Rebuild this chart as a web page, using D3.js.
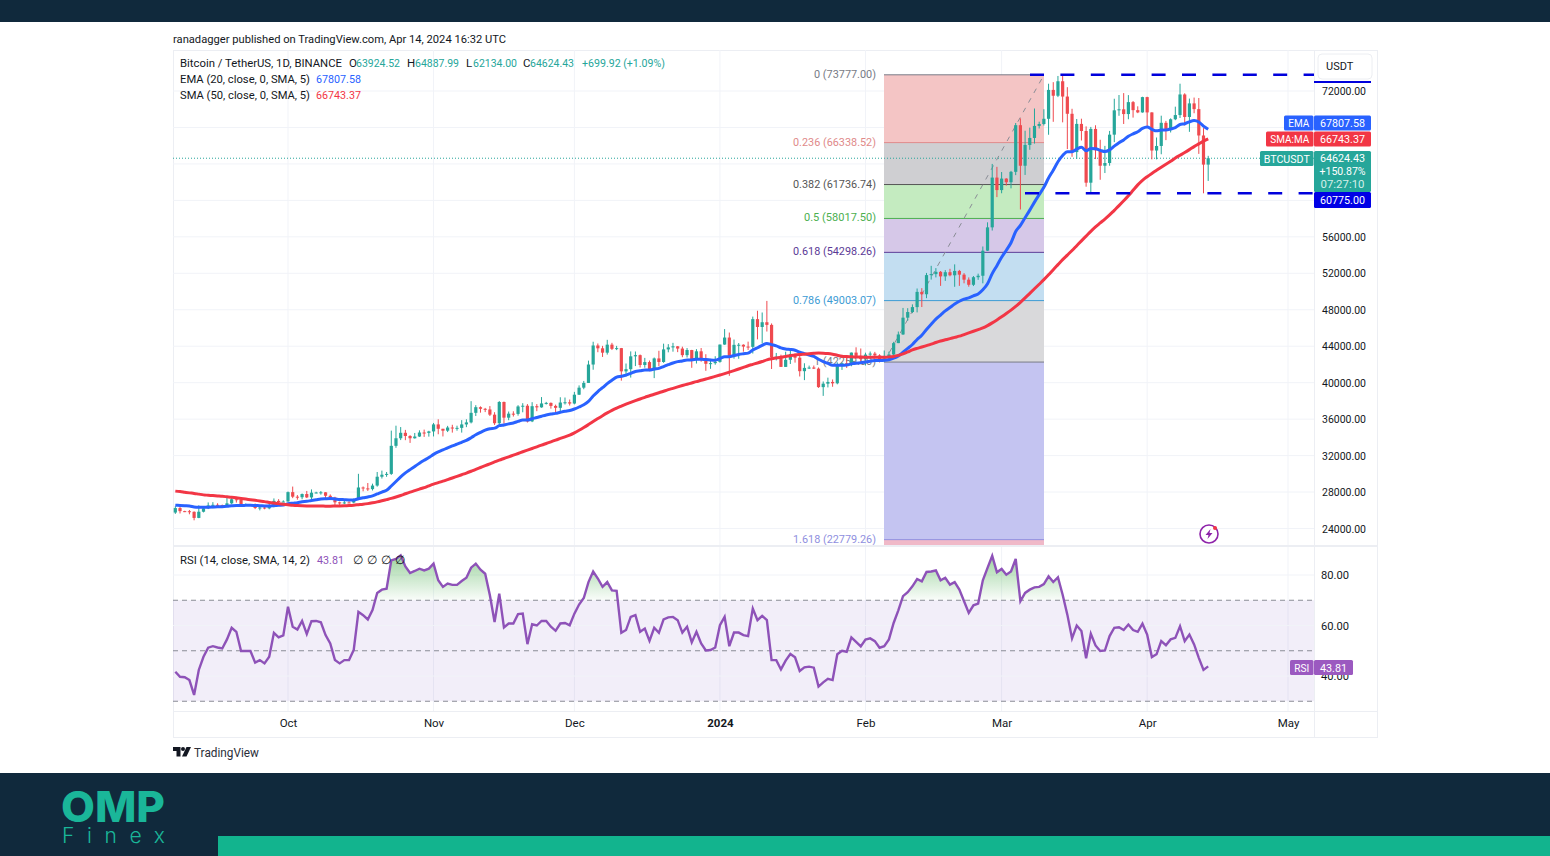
<!DOCTYPE html>
<html>
<head>
<meta charset="utf-8">
<title>BTCUSDT</title>
<script src="https://cdn.jsdelivr.net/npm/d3@7"></script>
<style>
  html, body { margin: 0; padding: 0; background: #fff; overflow: hidden; }
  svg { display: block; }
  text { font-family: Roboto, "Open Sans", sans-serif; }
  .domain { display: none; }
</style>
</head>
<body>
<svg id="chart" width="1550" height="856"></svg>
<script>
// daily candles from Sep 7 2023 to Apr 14 2024
var firstDay = "2023-09-07";

var opens = [25750,26240,25905,25895,25830,25160,25840,26220,26530,26600,26570,26530,26760,27210,27130,26570,26580,26580,26250,26300,26210,26350,27030,26900,26960,27990,27490,27430,27780,27410,27930,27950,27970,27590,27390,26870,26750,26860,26850,27150,28500,28400,28320,28710,29680,29900,29990,33070,33900,34500,34150,33900,34090,34530,34490,34650,35420,34940,34730,35080,35040,35040,35420,35640,36690,37310,37130,37060,36490,35550,37880,36160,36600,36570,37390,37470,35750,37420,37290,37720,37780,37450,37240,37820,37850,37710,38680,39450,39970,41990,44080,43770,43290,44170,43710,43790,41240,41480,42890,43020,41940,42260,41370,42660,42270,43650,43870,43990,43740,43020,43580,42520,43440,42580,42070,42140,42280,44180,44950,42850,44150,44160,43960,43930,46970,46110,46630,46340,42780,42840,41730,42510,43140,42740,41260,41620,41660,41540,39510,39890,40080,39930,41820,42120,42030,43300,42940,42580,43080,43190,42990,42580,42660,43090,44340,45290,47130,47750,48290,49960,49700,51800,51910,52160,51660,52120,51780,52260,51850,51300,50740,51570,51730,54480,57040,62500,61130,62390,61990,63130,68250,63800,66080,66850,68170,68380,68950,72120,71480,73070,71390,69500,65300,68390,67610,61940,67840,65500,63800,64100,67210,69880,69990,69470,70780,69900,69650,71330,69650,65470,65970,68510,67840,68900,69360,71620,69150,70640,70010,67120,63924.52];
var highs = [26450,26430,25945,26030,25880,26540,26400,26860,26890,26770,26620,27410,27490,27380,27160,26740,26640,26740,26430,26390,26820,27300,27220,27090,28060,28600,27670,27840,28120,28290,28030,28110,27990,27740,27480,26950,27090,26990,27290,30000,28610,28990,28920,30200,30350,30200,34740,35280,35130,34820,34240,34480,34770,34850,34720,35580,35980,34940,35260,35380,35280,35890,35980,37970,37530,37400,37230,37430,36760,37980,37930,36830,36860,37530,37750,37650,37860,37650,38420,37890,37830,37590,38400,38370,38150,38990,39700,40190,42420,44490,44300,44040,44700,44370,44040,43810,42100,43430,43420,43090,42720,42430,42760,43500,44280,44230,44370,44020,43950,43800,43600,43680,43800,43120,42610,42900,44180,45880,45500,44730,44350,44210,44500,47250,47890,47700,48970,46500,43260,43070,43400,43570,43200,42930,42130,41870,41880,41670,40130,40550,40350,42230,42200,42840,43310,43880,43750,43290,43420,43380,43120,43530,43400,44480,45610,48200,48170,48590,50330,50370,52040,52820,52570,52250,52350,52490,52980,52370,52020,51550,51700,51960,54940,57590,64000,63680,63110,62430,63230,68490,69000,67640,67980,70080,68630,70000,72800,72970,73650,73777,72420,70050,68930,68960,68120,68060,68240,66650,65980,67620,71150,71560,71770,71550,70900,70320,71370,71370,69670,66900,69290,68720,69000,70280,72800,71750,71170,71280,71230,67930,64887.99];
var lows = [25600,25650,25800,25560,24900,25130,25765,26130,26220,26470,26400,26390,26670,26840,26360,26480,26500,26130,25990,26110,26110,26320,26660,26890,26950,27330,27160,27210,27340,27180,27860,27710,27260,27110,26530,26560,26690,26810,26770,27120,28080,28120,28170,28590,29480,29670,29880,32850,33700,33690,33390,33860,34050,34050,34080,34100,34340,34100,34580,34520,34730,34520,35120,35530,36340,36710,36770,36340,35360,35360,35500,35880,36280,36380,36750,35630,35670,36870,37250,37600,37150,36720,36870,37600,37490,37620,38650,39280,39970,41420,43340,42820,43080,43580,43570,40220,40680,40560,41820,41660,41640,41250,40500,41800,42180,43330,43400,43350,42790,42760,41630,42100,42300,41300,41520,41970,42190,44150,40750,42630,42620,43400,43590,43200,44750,44300,45610,41500,42440,41720,41720,42050,42200,40680,40280,41500,41500,39430,38550,39480,39550,39820,41400,41620,41800,42680,42280,41880,42580,42880,42220,42260,42570,42790,44340,45240,46800,47630,47710,48300,49270,51310,51550,50620,51170,51670,50520,50620,50900,50530,50600,51280,50900,54450,56690,60360,60780,61620,61320,62770,59000,62790,65550,66230,67890,68220,67200,68620,71330,68560,65630,64780,64550,66570,61500,60780,64530,62260,63000,63800,66390,69280,68380,68900,69080,69570,69620,68060,64500,64500,65060,66610,67450,68800,69040,68210,67520,69560,65100,60775,62134];
var closes = [26240,25905,25895,25830,25160,25840,26220,26530,26600,26570,26530,26760,27210,27130,26570,26580,26580,26250,26300,26210,26350,27030,26900,26960,27990,27490,27430,27780,27410,27930,27950,27970,27590,27390,26870,26750,26860,26850,27150,28500,28400,28320,28710,29680,29900,29990,33070,33900,34500,34150,33900,34090,34530,34490,34650,35420,34940,34730,35080,35040,35040,35420,35640,36690,37310,37130,37060,36490,35550,37880,36160,36600,36570,37390,37470,35750,37420,37290,37720,37780,37450,37240,37820,37850,37710,38680,39450,39970,41990,44080,43770,43290,44170,43710,43790,41240,41480,42890,43020,41940,42260,41370,42660,42270,43650,43870,43990,43740,43020,43580,42520,43440,42580,42070,42140,42280,44180,44950,42850,44150,44160,43960,43930,46970,46110,46630,46340,42780,42840,41730,42510,43140,42740,41260,41620,41660,41540,39510,39890,40080,39930,41820,42120,42030,43300,42940,42580,43080,43190,42990,42580,42660,43090,44340,45290,47130,47750,48290,49960,49700,51800,51910,52160,51660,52120,51780,52260,51850,51300,50740,51570,51730,54480,57040,62500,61130,62390,61990,63130,68250,63800,66080,66850,68170,68380,68950,72120,71480,73070,71390,69500,65300,68390,67610,61940,67840,65500,63800,64100,67210,69880,69990,69470,70780,69900,69650,71330,69650,65470,65970,68510,67840,68900,69360,71620,69150,70640,70010,67120,63924.52,64624.43];

// the two moving averages, one value per day
var emaValues = [26560,26530,26500,26470,26370,26330,26320,26340,26360,26380,26390,26430,26490,26530,26530,26540,26550,26520,26500,26470,26460,26510,26550,26580,26710,26780,26840,26930,26980,27070,27150,27230,27260,27280,27240,27190,27160,27130,27130,27260,27370,27460,27580,27790,28000,28190,28660,29160,29670,30100,30460,30810,31160,31480,31780,32130,32400,32620,32850,33060,33250,33460,33670,33960,34280,34550,34790,34950,35010,35280,35360,35480,35580,35750,35910,35900,36050,36170,36320,36460,36560,36630,36750,36860,36940,37110,37330,37580,37950,38530,39030,39450,39890,40260,40600,40710,40830,41030,41230,41300,41390,41380,41500,41570,41770,41970,42160,42310,42380,42490,42490,42580,42580,42530,42490,42470,42630,42850,42850,42980,43090,43170,43240,43590,43830,44100,44310,44170,44040,43820,43700,43650,43560,43340,43180,43030,42890,42570,42320,42110,41900,41900,41920,41930,42060,42140,42180,42270,42360,42420,42430,42460,42520,42690,42940,43340,43760,44190,44740,45210,45840,46420,46970,47420,47870,48240,48620,48930,49160,49310,49530,49740,50190,50850,51960,52840,53750,54530,55350,56580,57260,58100,58930,59810,60630,61430,62450,63310,64240,64920,65340,65340,65630,65820,65450,65680,65670,65490,65360,65540,65950,66330,66630,67030,67300,67530,67890,68040,67800,67630,67710,67720,67830,67980,68330,68410,68620,68750,68600,68150,67807.58];
var smaValues = [28100,28050,27980,27910,27850,27770,27690,27650,27610,27570,27530,27480,27430,27370,27300,27230,27160,27090,27020,26950,26860,26790,26730,26670,26610,26550,26510,26490,26480,26470,26460,26460,26450,26450,26460,26470,26490,26520,26560,26610,26660,26730,26820,26920,27040,27170,27300,27450,27620,27810,27990,28150,28320,28480,28680,28870,29030,29190,29370,29540,29720,29900,30080,30280,30490,30690,30890,31100,31300,31500,31680,31860,32050,32230,32420,32600,32780,32960,33150,33330,33510,33700,33880,34060,34250,34500,34780,35080,35400,35730,36060,36380,36680,36960,37210,37430,37640,37840,38030,38210,38390,38560,38730,38890,39060,39230,39380,39540,39690,39830,39970,40110,40260,40400,40540,40690,40840,40990,41150,41320,41500,41680,41860,42010,42160,42320,42500,42620,42710,42790,42870,42960,43040,43090,43130,43170,43220,43250,43240,43200,43120,43000,42900,42860,42830,42820,42810,42800,42790,42790,42790,42800,42830,42880,42990,43150,43370,43590,43760,43910,44070,44230,44410,44570,44700,44830,44970,45100,45280,45460,45640,45820,46000,46260,46560,46880,47220,47580,47960,48370,48820,49300,49800,50300,50800,51300,51830,52400,52950,53500,54000,54500,55030,55560,56080,56600,57080,57520,57950,58400,58910,59420,59950,60500,61100,61700,62200,62600,62960,63300,63640,63970,64280,64650,64950,65250,65570,65900,66200,66500,66743.37];
var rsiValues = [41.7,39.7,39.5,38.4,32.5,42.4,47.6,51.2,51.8,51.3,50.9,54.5,59.1,57.5,49.9,49.9,49.9,45.3,46.3,45,47.6,57.1,55.3,56.1,67.4,59.5,58.4,61.8,56.6,61.7,61.8,61.3,56.2,52.9,46.3,45,46.3,46.3,50.3,65.4,64.1,62.4,66.1,72.9,74.2,74.6,85.8,86.4,87.8,83.4,80.8,81.6,82.5,81.8,82.5,84.5,77.9,75.3,76.6,76.1,76.1,77.6,78.9,82.9,84.5,82.1,80.5,72,61.4,72.6,59.2,60.8,60.8,64.5,64.7,52.6,60.5,60,61.8,61.8,59.5,57.9,60.8,61,60.1,64.7,68.3,70.9,77.2,81.4,78.6,75.3,77.2,73.9,73.7,57.1,58.2,63.4,64.1,57.5,58.8,53.9,59.1,57.1,62.4,63.2,63.4,62.1,57.2,59.5,53.3,57.5,52.9,50.1,50.3,51.3,60.1,63.4,51.8,57.2,57.2,56.2,55.8,66.7,62.1,63.8,62.1,46.3,46.3,42.6,46.1,48.7,47.4,42,43.4,43.7,43.3,35.8,37.5,38.9,38.4,48.6,50,49.6,55.3,53.5,51.7,54.4,54.9,53.8,51.2,51.8,54.5,61,66,71.6,73.2,75.5,78.4,77.5,81.2,81.4,81.8,77.9,78.9,76.2,77.2,74.2,69.6,65,68,68.7,77.9,82.8,87.6,81.1,82.4,80.1,81.4,86.4,69.6,72.9,74.2,75.1,75.3,76.4,79.5,77.2,79.1,72.2,64.3,54.9,60,57.8,47,56.7,52.1,49.9,50.1,55.8,59.1,59.3,58.2,60.4,58.2,57.5,60.7,56.4,47.5,48.6,53.8,52.2,54.5,55.1,59.7,53.8,56.4,52.5,47.2,42.4,43.81];

// axes
var gridTicks = [72000,68000,64000,60000,56000,52000,48000,44000,40000,36000,32000,28000,24000];
var priceTicks = [72000,56000,52000,48000,44000,40000,36000,32000,28000,24000];
var rsiTicks = [80,60,40];
var rsiBands = [70,50,30];
var monthTicks = ["2023-10-01","2023-11-01","2023-12-01","2024-01-01","2024-02-01","2024-03-01","2024-04-01","2024-05-01"];
var monthLabels = ["Oct","Nov","Dec","2024","Feb","Mar","Apr","May"];

// fibonacci retracement
var fibRatios = ["0","0.236","0.382","0.5","0.618","0.786","1","1.618"];
var fibPrices = [73777,66338.52,61736.74,58017.5,54298.26,49003.07,42259,22779.26];
var fibFills = ["#f4c5c5","#cfcfd2","#c4ebc0","#d6c8e8","#c3def1","#d9d9db","#c4c4f1","#f0b9c8"];
var fibLines = ["#787b86","#e08a8a","#555555","#4caf50","#5b3a96","#3d9bd4","#787b86","#8f8fe0"];

// horizontal levels drawn by the author
var resistance = 73777;
var support = 60775;
var lastClose = 64624.43;

var navy = "#10293c";
var upColor = "#26a69a";
var downColor = "#ef4a4f";
var emaColor = "#2962ff";
var smaColor = "#f23645";
var rsiColor = "#8e52b8";

var svg = d3.select("#chart");
var parseDay = d3.utcParse("%Y-%m-%d");

var paneLeft = 173, paneRight = 1314, axisRight = 1377;
var priceTop = 50, priceBottom = 545, rsiTop = 547, rsiBottom = 711, chartBottom = 737;

var x = d3.scaleUtc()
  .domain([parseDay("2023-10-01"), parseDay("2024-05-01")])
  .range([288, 1288]);
var yPrice = d3.scaleLinear().domain([72000, 24000]).range([91, 528.5]);
var yRsi = d3.scaleLinear().domain([80, 40]).range([575, 676]);

var days = closes.map(function (d, i) {
  return d3.utcDay.offset(parseDay(firstDay), i);
});
var monthDates = monthTicks.map(parseDay);

function label(parent, str, px, py, opts) {
  opts = opts || {};
  var t = parent.append("text")
    .attr("x", px)
    .attr("y", py)
    .attr("dominant-baseline", "central")
    .attr("font-size", opts.size || 11.5)
    .attr("fill", opts.color || "#131722")
    .attr("text-anchor", opts.anchor || "start")
    .text(str);
  if (opts.weight) t.attr("font-weight", opts.weight);
  if (opts.length) t.attr("textLength", opts.length).attr("lengthAdjust", "spacingAndGlyphs");
  return t;
}

// page bands and logo
svg.append("rect").attr("width", 1550).attr("height", 22).attr("fill", navy);
svg.append("rect").attr("y", 773).attr("width", 1550).attr("height", 83).attr("fill", navy);
svg.append("rect").attr("x", 218).attr("y", 836).attr("width", 1332).attr("height", 20).attr("fill", "#12b48e");
label(svg, "OMP", 61, 806, { size: 43, weight: 800, color: "#1ab699", length: 104 }).style("font-family", "Inter");
label(svg, "Finex", 62, 835, { size: 21, weight: 300, color: "#1ab699", length: 103 })
  .attr("lengthAdjust", "spacing").style("font-family", "Inter");

label(svg, "ranadagger published on TradingView.com, Apr 14, 2024 16:32 UTC", 173, 39, { size: 11.5, length: 333 });

// chart frame
var frame = svg.append("g").attr("fill", "none").attr("stroke", "#eceef3");
frame.append("rect").attr("x", paneLeft + 0.5).attr("y", priceTop + 0.5).attr("width", axisRight - paneLeft).attr("height", chartBottom - priceTop);
frame.append("line").attr("x1", paneLeft).attr("x2", axisRight).attr("y1", priceBottom + 1).attr("y2", priceBottom + 1).attr("stroke-width", 2);
frame.append("line").attr("x1", paneLeft).attr("x2", axisRight).attr("y1", rsiBottom + 0.5).attr("y2", rsiBottom + 0.5);
frame.append("line").attr("x1", paneRight + 0.5).attr("x2", paneRight + 0.5).attr("y1", priceTop).attr("y2", chartBottom);

// clip everything to its pane
var defs = svg.append("defs");
defs.append("clipPath").attr("id", "priceClip").append("rect")
  .attr("x", paneLeft).attr("y", priceTop).attr("width", paneRight - paneLeft).attr("height", priceBottom - priceTop);
defs.append("clipPath").attr("id", "rsiClip").append("rect")
  .attr("x", paneLeft).attr("y", rsiTop).attr("width", paneRight - paneLeft).attr("height", rsiBottom - rsiTop);
defs.append("clipPath").attr("id", "obClip").append("rect")
  .attr("x", paneLeft).attr("y", rsiTop).attr("width", paneRight - paneLeft).attr("height", yRsi(70) - rsiTop);
var grad = defs.append("linearGradient").attr("id", "obFill")
  .attr("gradientUnits", "userSpaceOnUse")
  .attr("x1", 0).attr("x2", 0).attr("y1", yRsi(88)).attr("y2", yRsi(70));
grad.append("stop").attr("offset", 0).attr("stop-color", "#4caf50").attr("stop-opacity", 0.55);
grad.append("stop").attr("offset", 1).attr("stop-color", "#4caf50").attr("stop-opacity", 0.03);

var pricePane = svg.append("g").attr("clip-path", "url(#priceClip)");
var rsiPane = svg.append("g").attr("clip-path", "url(#rsiClip)");

// grid
var gridColor = "#f1f3f8";
pricePane.selectAll(".gridH").data(gridTicks).enter().append("line")
  .attr("x1", paneLeft).attr("x2", paneRight)
  .attr("y1", function (d) { return yPrice(d); }).attr("y2", function (d) { return yPrice(d); })
  .attr("stroke", gridColor);
[pricePane, rsiPane].forEach(function (pane) {
  pane.selectAll(".gridV").data(monthDates).enter().append("line")
    .attr("x1", function (d) { return x(d); }).attr("x2", function (d) { return x(d); })
    .attr("y1", priceTop).attr("y2", rsiBottom)
    .attr("stroke", gridColor);
});

// fibonacci zones
var fibLeft = 884, fibRight = 1044;
var zoneEnds = fibPrices.slice(1).concat([yPrice.invert(priceBottom)]);
pricePane.selectAll(".fibZone").data(fibPrices).enter().append("rect")
  .attr("x", fibLeft).attr("width", fibRight - fibLeft)
  .attr("y", function (d) { return yPrice(d); })
  .attr("height", function (d, i) { return yPrice(zoneEnds[i]) - yPrice(d); })
  .attr("fill", function (d, i) { return fibFills[i]; });
pricePane.selectAll(".fibLine").data(fibPrices).enter().append("line")
  .attr("x1", fibLeft).attr("x2", fibRight)
  .attr("y1", function (d) { return yPrice(d); }).attr("y2", function (d) { return yPrice(d); })
  .attr("stroke", function (d, i) { return fibLines[i]; });
pricePane.append("line")
  .attr("x1", fibLeft).attr("y1", yPrice(fibPrices[6]))
  .attr("x2", fibRight).attr("y2", yPrice(fibPrices[0]))
  .attr("stroke", "#8a8d96").attr("stroke-dasharray", "5 6");
fibPrices.forEach(function (p, i) {
  // label widths follow the number of digits in the ratio
  var w = fibRatios[i].length === 1 ? 62 : fibRatios[i].length === 3 ? 72 : 83;
  label(pricePane, fibRatios[i] + " (" + p.toFixed(2) + ")", 876, yPrice(p) - 1, {
    anchor: "end", color: fibLines[i], length: w
  });
});

// last price line
pricePane.append("line")
  .attr("x1", paneLeft).attr("x2", paneRight)
  .attr("y1", yPrice(lastClose)).attr("y2", yPrice(lastClose))
  .attr("stroke", upColor).attr("stroke-dasharray", "1 2");

// candles
function candleColor(i) {
  return closes[i] >= opens[i] ? upColor : downColor;
}
var candles = pricePane.selectAll(".candle").data(days).enter().append("g").attr("class", "candle");
candles.append("line")
  .attr("x1", function (d) { return x(d); }).attr("x2", function (d) { return x(d); })
  .attr("y1", function (d, i) { return yPrice(highs[i]); })
  .attr("y2", function (d, i) { return yPrice(lows[i]); })
  .attr("stroke", function (d, i) { return candleColor(i); });
candles.append("rect")
  .attr("x", function (d) { return x(d) - 1.6; })
  .attr("width", 3.2)
  .attr("y", function (d, i) { return yPrice(Math.max(opens[i], closes[i])); })
  .attr("height", function (d, i) { return Math.max(1, Math.abs(yPrice(opens[i]) - yPrice(closes[i]))); })
  .attr("fill", function (d, i) { return candleColor(i); });

// moving averages
var priceLine = d3.line()
  .x(function (d, i) { return x(days[i]); })
  .y(function (d) { return yPrice(d); })
  .curve(d3.curveMonotoneX);
pricePane.append("path").attr("d", priceLine(emaValues))
  .attr("fill", "none").attr("stroke", emaColor).attr("stroke-width", 3);
pricePane.append("path").attr("d", priceLine(smaValues))
  .attr("fill", "none").attr("stroke", smaColor).attr("stroke-width", 3);

// dashed range lines
[[resistance, 1030], [support, 1025]].forEach(function (lvl) {
  pricePane.append("line")
    .attr("x1", lvl[1]).attr("x2", paneRight)
    .attr("y1", yPrice(lvl[0])).attr("y2", yPrice(lvl[0]))
    .attr("stroke", "#0000dc").attr("stroke-width", 2.6).attr("stroke-dasharray", "14 16.4");
});

// lightning icon
var bolt = svg.append("g").attr("transform", "translate(1209,534)");
bolt.append("circle").attr("r", 9).attr("fill", "#fff").attr("stroke", "#8e24aa").attr("stroke-width", 1.6);
bolt.append("path").attr("d", "M1.5,-5 L-3.5,1 L-0.5,1 L-1.5,5 L3.5,-1 L0.5,-1 Z").attr("fill", "#8e24aa");
bolt.append("circle").attr("cx", 6).attr("cy", -6).attr("r", 2).attr("fill", "#f23645");

// RSI pane
rsiPane.append("rect")
  .attr("x", paneLeft).attr("width", paneRight - paneLeft)
  .attr("y", yRsi(70)).attr("height", yRsi(30) - yRsi(70))
  .attr("fill", "#7e57c2").attr("opacity", 0.1);
rsiPane.selectAll(".gridR").data(rsiTicks).enter().append("line")
  .attr("x1", paneLeft).attr("x2", paneRight)
  .attr("y1", function (d) { return yRsi(d); }).attr("y2", function (d) { return yRsi(d); })
  .attr("stroke", gridColor);
rsiPane.selectAll(".band").data(rsiBands).enter().append("line")
  .attr("x1", paneLeft).attr("x2", paneRight)
  .attr("y1", function (d) { return yRsi(d); }).attr("y2", function (d) { return yRsi(d); })
  .attr("stroke", "#8a8d96").attr("stroke-dasharray", "5 4");
var obArea = d3.area()
  .x(function (d, i) { return x(days[i]); })
  .y0(yRsi(70))
  .y1(function (d) { return yRsi(d); });
rsiPane.append("path").attr("d", obArea(rsiValues))
  .attr("fill", "url(#obFill)").attr("clip-path", "url(#obClip)");
var rsiLine = d3.line()
  .x(function (d, i) { return x(days[i]); })
  .y(function (d) { return yRsi(d); });
rsiPane.append("path").attr("d", rsiLine(rsiValues))
  .attr("fill", "none").attr("stroke", rsiColor).attr("stroke-width", 2.4);

// axes
var priceAxis = svg.append("g").attr("transform", "translate(" + paneRight + ",0)")
  .call(d3.axisRight(yPrice).tickValues(priceTicks).tickSize(0).tickPadding(8).tickFormat(d3.format(".2f")));
var rsiAxis = svg.append("g").attr("transform", "translate(" + paneRight + ",0)")
  .call(d3.axisRight(yRsi).tickValues(rsiTicks).tickSize(0).tickPadding(7).tickFormat(d3.format(".2f")));
var timeAxis = svg.append("g").attr("transform", "translate(0," + rsiBottom + ")")
  .call(d3.axisBottom(x).tickValues(monthDates).tickSize(0).tickPadding(8)
    .tickFormat(function (d, i) { return monthLabels[i]; }));
[priceAxis, rsiAxis, timeAxis].forEach(function (a) {
  a.selectAll("text").attr("font-size", 11.5).attr("fill", "#131722").style("font-family", "Roboto");
});
priceAxis.selectAll("text").attr("textLength", 44).attr("lengthAdjust", "spacingAndGlyphs");
rsiAxis.selectAll("text").attr("textLength", 28).attr("lengthAdjust", "spacingAndGlyphs");
timeAxis.selectAll("text").filter(function (d, i) { return monthLabels[i] === "2024"; }).attr("font-weight", 700);

// tags on the price scale
function tag(left, width, top, height, fill, str, textWidth, color) {
  svg.append("rect").attr("x", left).attr("y", top).attr("width", width).attr("height", height)
    .attr("rx", 1.5).attr("fill", fill);
  if (str) label(svg, str, left + width / 2, top + height / 2, { anchor: "middle", color: color || "#fff", length: textWidth });
}
svg.append("rect").attr("x", 1318).attr("y", 54).attr("width", 54).attr("height", 25).attr("rx", 4)
  .attr("fill", "#fff").attr("stroke", "#eceef2");
label(svg, "USDT", 1326, 66, { size: 11 });
svg.append("rect").attr("x", 1314).attr("y", 81).attr("width", 57).attr("height", 2).attr("fill", "#0000dc");

tag(1284, 29.5, 115.5, 15, emaColor, "EMA", 21);
tag(1314, 57, 115.5, 15, emaColor, d3.format(".2f")(emaValues[emaValues.length - 1]), 45);
tag(1266, 47.5, 131.5, 15, smaColor, "SMA:MA", 39);
tag(1314, 57, 131.5, 15, smaColor, d3.format(".2f")(smaValues[smaValues.length - 1]), 45);
tag(1260, 53.5, 151, 15, upColor, "BTCUSDT", 46);
tag(1314, 57, 151, 41, upColor);
label(svg, d3.format(".2f")(lastClose), 1342.5, 158, { anchor: "middle", color: "#fff", length: 45 });
label(svg, "+150.87%", 1342.5, 171, { anchor: "middle", color: "#fff", length: 46 });
label(svg, "07:27:10", 1342.5, 184, { anchor: "middle", color: "#d5efe9", length: 44 });
tag(1314, 57, 192, 16, "#0000e6", d3.format(".2f")(support), 45);
tag(1290, 23.5, 660, 15, "#9b59c0", "RSI", 15);
tag(1314, 39, 660, 15, "#9b59c0", "43.81", 27);

// legends
label(svg, "Bitcoin / TetherUS, 1D, BINANCE", 180, 63, { length: 162 });
[["O", "63924.52", 349, 356], ["H", "64887.99", 407, 415], ["L", "62134.00", 466, 473], ["C", "64624.43", 523, 530]].forEach(function (o) {
  label(svg, o[0], o[2], 63);
  label(svg, o[1], o[3], 63, { color: upColor, length: 44 });
});
label(svg, "+699.92 (+1.09%)", 582, 63, { color: upColor, length: 83 });
label(svg, "EMA (20, close, 0, SMA, 5)", 180, 79, { length: 130 });
label(svg, "67807.58", 316, 79, { color: emaColor, length: 45 });
label(svg, "SMA (50, close, 0, SMA, 5)", 180, 95, { length: 130 });
label(svg, "66743.37", 316, 95, { color: smaColor, length: 45 });
label(svg, "RSI (14, close, SMA, 14, 2)", 180, 560, { length: 130 });
label(svg, "43.81", 317, 560, { color: rsiColor, length: 27 });
[353, 367, 381, 395].forEach(function (px) {
  label(svg, "∅", px, 560);
});

// TradingView mark
var tv = svg.append("g").attr("transform", "translate(173,747)").attr("fill", "#131722");
tv.append("path").attr("d", "M0,0 H7.5 V9.5 H3.5 V4 H0 Z");
tv.append("circle").attr("cx", 10).attr("cy", 2).attr("r", 2);
tv.append("path").attr("d", "M13.5,0 H18 L13.5,9.5 H9 Z");
label(svg, "TradingView", 194, 753, { size: 12, color: "#2a2e39", length: 65 });
</script>
</body>
</html>
